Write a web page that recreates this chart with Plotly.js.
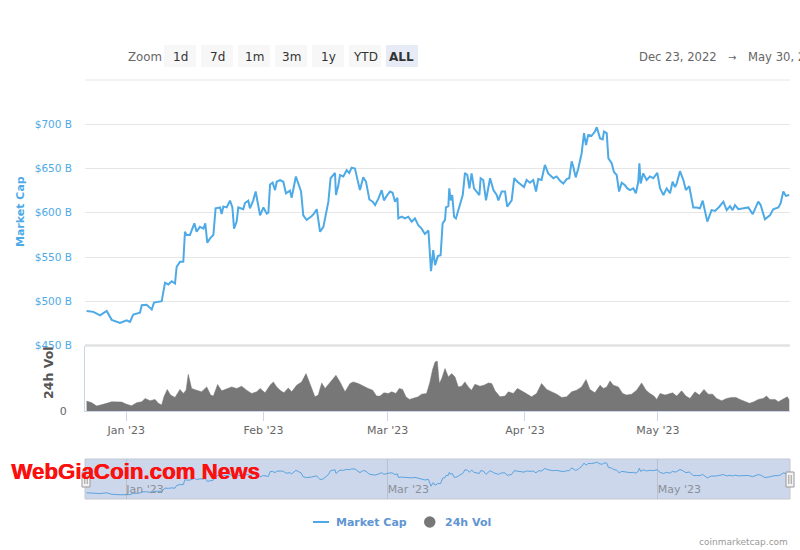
<!DOCTYPE html>
<html>
<head>
<meta charset="utf-8">
<script src="https://cdn.plot.ly/plotly-3.0.1.min.js"></script>
<style>html,body{margin:0;padding:0;background:#fff;}#chart{width:800px;height:550px;}</style>
</head>
<body>
<div id="chart"></div>
<script>
// ---- Data (Market Cap in $ billions, 24h Vol in $ billions) ----
const capDates = [
'2022-12-23 01:00','2022-12-24 14:00','2022-12-26 02:00','2022-12-27 14:00','2022-12-28 17:00','2022-12-30 14:00',
'2023-01-01 02:00','2023-01-01 20:00','2023-01-02 14:00','2023-01-04 02:00','2023-01-04 12:00','2023-01-05 14:00',
'2023-01-06 18:00','2023-01-07 06:00','2023-01-09 00:00','2023-01-09 18:00','2023-01-10 12:00','2023-01-11 06:00',
'2023-01-12 00:00','2023-01-12 09:00','2023-01-13 03:00','2023-01-13 21:00','2023-01-14 06:00','2023-01-14 15:00',
'2023-01-15 09:00','2023-01-16 09:00','2023-01-16 21:00','2023-01-17 15:00','2023-01-18 10:00','2023-01-18 20:00',
'2023-01-19 07:00','2023-01-19 22:00','2023-01-20 16:00','2023-01-21 04:00','2023-01-22 04:00','2023-01-22 13:00',
'2023-01-22 22:00','2023-01-23 16:00','2023-01-24 10:00','2023-01-24 23:00','2023-01-25 08:00','2023-01-25 22:00',
'2023-01-26 07:00','2023-01-27 10:00','2023-01-27 19:00','2023-01-28 13:00','2023-01-28 22:00','2023-01-29 16:00',
'2023-01-30 05:00','2023-01-30 19:00','2023-01-31 05:00','2023-01-31 23:00','2023-02-01 17:00','2023-02-02 02:00',
'2023-02-02 11:00','2023-02-03 01:00','2023-02-03 14:00','2023-02-03 23:00','2023-02-04 17:00','2023-02-05 11:00',
'2023-02-06 01:00','2023-02-06 23:00','2023-02-07 08:00','2023-02-08 07:00','2023-02-08 20:00','2023-02-09 11:00',
'2023-02-09 23:00','2023-02-10 17:00','2023-02-11 20:00','2023-02-12 09:00','2023-02-13 00:00','2023-02-13 08:00',
'2023-02-13 18:00','2023-02-14 12:00','2023-02-15 02:00','2023-02-15 15:00','2023-02-16 03:00','2023-02-16 18:00',
'2023-02-17 03:00','2023-02-17 08:00','2023-02-17 21:00','2023-02-18 06:00','2023-02-19 00:00','2023-02-19 18:00',
'2023-02-20 08:00','2023-02-20 21:00','2023-02-21 15:00','2023-02-22 04:00','2023-02-22 18:00','2023-02-23 12:00',
'2023-02-24 03:00','2023-02-24 21:00','2023-02-25 15:00','2023-02-26 04:00','2023-02-26 22:00','2023-02-27 16:00',
'2023-02-28 04:00','2023-02-28 19:00','2023-03-01 13:00','2023-03-02 03:00','2023-03-02 16:00','2023-03-03 05:00',
'2023-03-03 10:00','2023-03-04 04:00','2023-03-04 22:00','2023-03-05 16:00','2023-03-06 10:00','2023-03-07 04:00',
'2023-03-07 22:00','2023-03-08 16:00','2023-03-09 10:00','2023-03-10 05:00','2023-03-10 13:00','2023-03-10 19:00',
'2023-03-11 07:00','2023-03-11 17:00','2023-03-12 08:00','2023-03-12 23:00','2023-03-13 10:00','2023-03-13 23:00',
'2023-03-14 04:00','2023-03-14 17:00','2023-03-14 22:00','2023-03-15 06:00','2023-03-15 14:00','2023-03-16 00:00',
'2023-03-16 10:00','2023-03-16 23:00','2023-03-17 12:00','2023-03-17 23:00','2023-03-18 11:00','2023-03-19 00:00',
'2023-03-19 11:00','2023-03-19 23:00','2023-03-20 12:00','2023-03-21 02:00','2023-03-21 17:00','2023-03-22 00:00',
'2023-03-22 14:00','2023-03-23 05:00','2023-03-24 03:00','2023-03-24 21:00','2023-03-25 15:00','2023-03-26 00:00',
'2023-03-26 18:00','2023-03-27 12:00','2023-03-28 00:00','2023-03-29 00:00','2023-03-29 14:00','2023-03-30 07:00',
'2023-03-31 06:00','2023-03-31 19:00','2023-04-01 09:00','2023-04-02 03:00','2023-04-02 21:00','2023-04-03 12:00',
'2023-04-04 00:00','2023-04-04 18:00','2023-04-05 12:00','2023-04-06 06:00','2023-04-07 10:00','2023-04-08 04:00',
'2023-04-08 22:00','2023-04-09 16:00','2023-04-10 10:00','2023-04-11 00:00','2023-04-11 13:00','2023-04-11 22:00',
'2023-04-12 11:00','2023-04-13 01:00','2023-04-13 19:00','2023-04-14 08:00','2023-04-14 19:00','2023-04-15 07:00',
'2023-04-16 01:00','2023-04-16 19:00','2023-04-17 05:00','2023-04-17 23:00','2023-04-18 13:00','2023-04-18 20:00',
'2023-04-19 11:00','2023-04-19 20:00','2023-04-20 14:00','2023-04-21 02:00','2023-04-21 17:00','2023-04-22 06:00',
'2023-04-22 20:00','2023-04-23 14:00','2023-04-24 03:00','2023-04-24 17:00','2023-04-25 11:00','2023-04-26 01:00',
'2023-04-26 14:00','2023-04-26 20:00','2023-04-27 03:00','2023-04-27 17:00','2023-04-28 11:00','2023-04-29 05:00',
'2023-04-29 23:00','2023-04-30 21:00','2023-05-01 12:00','2023-05-02 06:00','2023-05-03 00:00','2023-05-03 18:00',
'2023-05-04 08:00','2023-05-04 21:00','2023-05-05 06:00','2023-05-06 00:00','2023-05-06 18:00','2023-05-07 08:00',
'2023-05-08 02:00','2023-05-09 00:00','2023-05-09 18:00','2023-05-10 12:00','2023-05-11 03:00','2023-05-11 15:00',
'2023-05-12 04:00','2023-05-13 03:00','2023-05-13 22:00','2023-05-14 21:00','2023-05-15 19:00','2023-05-16 13:00',
'2023-05-17 07:00','2023-05-17 21:00','2023-05-18 10:00','2023-05-19 04:00','2023-05-20 07:00','2023-05-21 10:00',
'2023-05-22 10:00','2023-05-22 22:00','2023-05-23 16:00','2023-05-24 05:00','2023-05-25 04:00','2023-05-26 07:00',
'2023-05-27 01:00','2023-05-28 05:00','2023-05-28 17:00','2023-05-29 08:00','2023-05-29 22:00','2023-05-30 16:00'
];
const marketCap = [
489,488,484,489,479,475.5,
478.5,476.6,485,487,495.5,496,
490.6,498.5,500,521,519,522.6,
520,539,544.5,544.5,578.5,575,
575,588,578.5,584,582,588,
566,571,575,605,606,598.5,
607,606,613.6,606,582,590,
606,604,611,613.6,605,614,
624,609,597,606,599,600,
632,634,625.6,635,637,635,
622,625,617,641,633,624,
597,592,596,599,604,592,
578.5,584,598.5,612.5,639,642.6,
645,620,631,642.6,641,648,
645,651,650,638,625.6,640,
635,615,612.5,608.7,616,625.6,
614,619,624,622.6,612.5,617,
593.6,595.5,593.6,595.5,590,593.6,
586,582,576,580,545,534,
557.7,540.8,551,552,588,592,
606,607.5,627.5,614,620,595.5,
593.6,603,614,620,645,642.6,
627.5,644.5,627.5,624,620,639,
637,614,639,625.6,620,614,
624,624,606.8,614,639,635,
631,629,637,634,637,624,
638,637,654,644.5,639,641,
636,633,638,639,658,652,
640,650,667,690,676.6,688,
687,691.7,696.6,684,683,691.7,
690,661.5,656,646,642.6,624,
634,631,627.5,625.6,627.5,622,
635,656,633,644.5,637,641,
639,645,627.5,620,627.5,622,
635,629,633,647,637,625.6,
630,606,606,605,613.6,603,
590,603,602,606.8,612.5,603,
607.5,603,608.7,604,605,606,
598.5,604,612.5,608.7,592.5,597,
604,606,610.6,624,619,620
];
const volDates = [
'2022-12-23 01:00','2022-12-24 05:00','2022-12-25 08:00','2022-12-26 11:00','2022-12-27 14:00','2022-12-28 17:00',
'2022-12-29 20:00','2022-12-30 23:00','2023-01-01 02:00','2023-01-02 05:00','2023-01-03 08:00','2023-01-04 12:00',
'2023-01-05 06:00','2023-01-06 09:00','2023-01-07 12:00','2023-01-08 06:00','2023-01-09 00:00','2023-01-09 12:00',
'2023-01-10 06:00','2023-01-11 00:00','2023-01-12 00:00','2023-01-13 03:00','2023-01-13 21:00','2023-01-14 12:00',
'2023-01-15 00:00','2023-01-15 18:00','2023-01-16 21:00','2023-01-18 00:00','2023-01-19 04:00','2023-01-20 01:00',
'2023-01-20 16:00','2023-01-21 15:00','2023-01-22 13:00','2023-01-23 16:00','2023-01-24 19:00','2023-01-25 22:00',
'2023-01-27 01:00','2023-01-28 04:00','2023-01-29 07:00','2023-01-30 11:00','2023-01-31 05:00','2023-02-01 08:00',
'2023-02-02 11:00','2023-02-03 05:00','2023-02-03 23:00','2023-02-04 17:00','2023-02-05 14:00','2023-02-06 14:00',
'2023-02-07 08:00','2023-02-08 11:00','2023-02-09 14:00','2023-02-10 14:00','2023-02-11 11:00','2023-02-12 14:00',
'2023-02-13 08:00','2023-02-14 03:00','2023-02-14 21:00','2023-02-15 20:00','2023-02-16 14:00','2023-02-17 08:00',
'2023-02-18 06:00','2023-02-19 09:00','2023-02-20 12:00','2023-02-21 06:00','2023-02-22 09:00','2023-02-23 12:00',
'2023-02-24 15:00','2023-02-25 15:00','2023-02-26 12:00','2023-02-27 07:00','2023-02-28 04:00','2023-03-01 04:00',
'2023-03-01 22:00','2023-03-02 21:00','2023-03-03 15:00','2023-03-04 09:00','2023-03-05 03:00','2023-03-05 22:00',
'2023-03-06 19:00','2023-03-07 22:00','2023-03-08 16:00','2023-03-09 19:00','2023-03-10 13:00','2023-03-11 04:00',
'2023-03-11 17:00','2023-03-12 05:00','2023-03-12 16:00','2023-03-13 05:00','2023-03-13 23:00','2023-03-14 17:00',
'2023-03-15 11:00','2023-03-16 05:00','2023-03-16 23:00','2023-03-17 17:00','2023-03-18 11:00','2023-03-19 05:00',
'2023-03-19 23:00','2023-03-20 17:00','2023-03-21 20:00','2023-03-22 18:00','2023-03-23 18:00','2023-03-24 12:00',
'2023-03-25 06:00','2023-03-26 09:00','2023-03-27 12:00','2023-03-28 06:00','2023-03-29 09:00','2023-03-30 07:00',
'2023-03-31 06:00','2023-04-01 09:00','2023-04-02 12:00','2023-04-03 15:00','2023-04-04 18:00','2023-04-05 22:00',
'2023-04-07 01:00','2023-04-08 04:00','2023-04-09 07:00','2023-04-10 10:00','2023-04-11 13:00','2023-04-12 16:00',
'2023-04-13 19:00','2023-04-14 19:00','2023-04-15 16:00','2023-04-16 19:00','2023-04-17 23:00','2023-04-18 17:00',
'2023-04-19 11:00','2023-04-20 05:00','2023-04-20 23:00','2023-04-22 02:00','2023-04-23 01:00','2023-04-23 23:00',
'2023-04-25 02:00','2023-04-26 05:00','2023-04-27 08:00','2023-04-28 08:00','2023-04-29 05:00','2023-04-30 03:00',
'2023-04-30 18:00','2023-05-01 12:00','2023-05-02 15:00','2023-05-03 14:00','2023-05-04 08:00','2023-05-05 06:00',
'2023-05-06 09:00','2023-05-07 08:00','2023-05-08 06:00','2023-05-09 09:00','2023-05-10 09:00','2023-05-11 10:00',
'2023-05-12 09:00','2023-05-13 09:00','2023-05-14 06:00','2023-05-15 10:00','2023-05-16 13:00','2023-05-17 16:00',
'2023-05-18 15:00','2023-05-19 13:00','2023-05-20 16:00','2023-05-21 16:00','2023-05-22 17:00','2023-05-23 16:00',
'2023-05-24 19:00','2023-05-25 13:00','2023-05-26 07:00','2023-05-27 11:00','2023-05-28 05:00','2023-05-29 08:00',
'2023-05-30 05:00','2023-05-30 16:00'
];
const volume24h = [
10,8.3,5,6.7,7.7,9.3,
9.3,9,6.7,5.3,8.3,9.3,
12.7,10.3,11.7,7.7,6,14.3,
21.7,16,13.7,21.7,17.7,21,
37,22.7,21,19.3,24.3,16,
15,26.7,20.3,22.7,24.3,22.7,
25,21,17.7,19.3,22.7,18.3,
26,29.3,24.3,21,18.3,23.3,
19.3,26,29.3,37.7,27.7,14.3,
16,28.3,22.7,27.7,31.7,36,
29.3,19.3,27.7,29.3,27.7,25,
22.7,21,15,15,18.3,17.7,
19.3,17.7,22.7,21.7,14.3,11.7,
12.7,14.3,17,17.7,29,42,
49.3,50.3,27.7,32.7,42.7,34.3,
37.7,34.3,24.3,25,29.3,24.3,
21,27,25,26,28.3,27.7,
20.3,14.3,15,19.3,17.7,22.7,
20.3,17.7,14.3,17.7,27.7,21.7,
19.3,17,13.7,14.3,19.3,21,
24.3,31.7,21.7,18.3,26,22.7,
24.3,30.3,26,24.3,17.7,16,
17,21,28.3,21,17.7,15,
11.7,17.7,16,17,18.3,15,
20.3,15,12.7,19.3,16,21.7,
17,17,12.7,10.3,12.7,13.7,
13.7,11.7,9.3,7.7,9.3,11.7,
12.7,15,11.7,11.7,9.3,11.7,
14.3,11
];
const capTicks = [450, 500, 550, 600, 650, 700, 750];
const capTickText = ['$450 B', '$500 B', '$550 B', '$600 B', '$650 B', '$700 B', ''];
const navTicks = ['2023-01-01', '2023-03-01', '2023-05-01'];
const navTickText = ["Jan '23", "Mar '23", "May '23"];
const zoomLabels = ['1d', '7d', '1m', '3m', '1y', 'YTD', 'ALL'];
const fromDate = 'Dec 23, 2022';
const toDate = 'May 30, 2023';
const seriesNames = ['Market Cap', '24h Vol'];

// ---- Styling / layout ----
const W = 800, H = 550;
const px = v => v / W;            // x pixel -> paper
const py = v => 1 - v / H;        // y pixel -> paper
const FONT = 'DejaVu Sans, Verdana, sans-serif';
const BLUE = '#4eaae6';
const xRange = ['2022-12-22 16:25', '2023-05-30 20:00'];
const xDomain = [px(85), px(790)];

const traces = [
  {x: capDates, y: marketCap, type: 'scatter', mode: 'lines', name: seriesNames[0],
   line: {color: BLUE, width: 2}, xaxis: 'x', yaxis: 'y', hoverinfo: 'skip'},
  {x: volDates, y: volume24h, type: 'scatter', mode: 'lines', name: seriesNames[1],
   fill: 'tozeroy', fillcolor: '#777777', line: {color: '#777777', width: 0.5},
   xaxis: 'x', yaxis: 'y2', hoverinfo: 'skip'},
  {x: capDates, y: marketCap, type: 'scatter', mode: 'lines', name: 'navigator',
   line: {color: '#5aa3df', width: 1}, xaxis: 'x3', yaxis: 'y3', hoverinfo: 'skip'}
];

const shapes = [];
const annotations = [];

// top gridline of main pane
shapes.push({type: 'line', xref: 'paper', yref: 'paper', x0: px(85), x1: px(790), y0: py(80), y1: py(80),
  line: {color: '#e6e6e6', width: 1}});
// pane separator
shapes.push({type: 'line', xref: 'paper', yref: 'paper', x0: px(85), x1: px(790), y0: py(345.5), y1: py(345.5),
  line: {color: '#e2e2e2', width: 2.5}});
// navigator mask/outline
shapes.push({type: 'rect', xref: 'paper', yref: 'paper', x0: px(85), x1: px(790), y0: py(499), y1: py(459),
  fillcolor: 'rgba(102,133,194,0.33)', line: {color: '#c3c8d0', width: 1}, layer: 'below'});
// navigator handles
[86, 790].forEach(hx => {
  shapes.push({type: 'rect', xref: 'paper', yref: 'paper', x0: px(hx - 4), x1: px(hx + 4), y0: py(487), y1: py(472),
    fillcolor: '#f2f2f2', line: {color: '#999999', width: 1}});
  shapes.push({type: 'line', xref: 'paper', yref: 'paper', x0: px(hx - 1.2), x1: px(hx - 1.2), y0: py(484), y1: py(475),
    line: {color: '#999999', width: 1}});
  shapes.push({type: 'line', xref: 'paper', yref: 'paper', x0: px(hx + 1.2), x1: px(hx + 1.2), y0: py(484), y1: py(475),
    line: {color: '#999999', width: 1}});
});

// zoom buttons
annotations.push({xref: 'paper', yref: 'paper', x: px(126), y: py(57), xanchor: 'left', yanchor: 'middle',
  text: 'Zoom', showarrow: false, font: {family: FONT, size: 11.8, color: '#666666'}});
zoomLabels.forEach((lab, i) => {
  const x0 = 164 + i * 37;
  const sel = lab === 'ALL';
  shapes.push({type: 'rect', xref: 'paper', yref: 'paper', x0: px(x0), x1: px(x0 + 32), y0: py(67), y1: py(45),
    fillcolor: sel ? '#e6ebf5' : '#f7f7f7', line: {width: 0}});
  annotations.push({xref: 'paper', yref: 'paper', x: px(x0 + 16), y: py(57), xanchor: 'center', yanchor: 'middle',
    text: sel ? '<b>' + lab + '</b>' : lab, showarrow: false, font: {family: FONT, size: 12, color: '#333333'}});
});
// date range
annotations.push({xref: 'paper', yref: 'paper', x: px(637), y: py(57), xanchor: 'left', yanchor: 'middle',
  text: fromDate, showarrow: false, font: {family: FONT, size: 11.6, color: '#666666'}});
annotations.push({xref: 'paper', yref: 'paper', x: px(731.5), y: py(57), xanchor: 'center', yanchor: 'middle',
  text: '→', showarrow: false, font: {family: FONT, size: 10, color: '#666666'}});
annotations.push({xref: 'paper', yref: 'paper', x: px(745.5), y: py(57), xanchor: 'left', yanchor: 'middle',
  text: toDate, showarrow: false, font: {family: FONT, size: 11.6, color: '#666666'}});

// axis titles
annotations.push({xref: 'paper', yref: 'paper', x: px(20), y: py(212), xanchor: 'center', yanchor: 'middle',
  text: '<b>' + seriesNames[0] + '</b>', textangle: -90, showarrow: false, font: {family: FONT, size: 11, color: BLUE}});
annotations.push({xref: 'paper', yref: 'paper', x: px(48), y: py(373), xanchor: 'center', yanchor: 'middle',
  text: '<b>' + seriesNames[1] + '</b>', textangle: -90, showarrow: false, font: {family: FONT, size: 12.5, color: '#555555'}});

// watermark
annotations.push({xref: 'paper', yref: 'paper', x: px(9), y: py(471), xanchor: 'left', yanchor: 'middle',
  text: '<b>WebGiaCoin.com News</b>', showarrow: false,
  font: {family: 'Liberation Sans, Arial, sans-serif', size: 22.3, color: '#fb1010', shadow: '0.7px 0 0 #fb1010'}});

// legend
shapes.push({type: 'line', xref: 'paper', yref: 'paper', x0: px(313), x1: px(329), y0: py(522), y1: py(522),
  line: {color: BLUE, width: 2}});
annotations.push({xref: 'paper', yref: 'paper', x: px(334), y: py(522), xanchor: 'left', yanchor: 'middle',
  text: '<b>' + seriesNames[0] + '</b>', showarrow: false, font: {family: FONT, size: 11, color: '#5f95d2'}});
shapes.push({type: 'circle', xref: 'paper', yref: 'paper', x0: px(424), x1: px(435.5), y0: py(527.8), y1: py(516.3),
  fillcolor: '#777777', line: {width: 0}});
annotations.push({xref: 'paper', yref: 'paper', x: px(442.5), y: py(522), xanchor: 'left', yanchor: 'middle',
  text: '<b>' + seriesNames[1] + '</b>', showarrow: false, font: {family: FONT, size: 11, color: '#5f95d2'}});

// credit
annotations.push({xref: 'paper', yref: 'paper', x: px(790), y: py(542), xanchor: 'right', yanchor: 'middle',
  text: 'coinmarketcap.com', showarrow: false, font: {family: FONT, size: 9, color: '#999999'}});

const layout = {
  width: W, height: H,
  margin: {l: 0, r: 0, t: 0, b: 0, pad: 0},
  paper_bgcolor: '#ffffff', plot_bgcolor: 'rgba(0,0,0,0)',
  showlegend: false,
  font: {family: FONT},
  xaxis: {domain: xDomain, anchor: 'y2', type: 'date', range: xRange,
    tick0: '2023-01-01', dtick: 'M1', tickformat: "%b '%y",
    ticks: 'outside', ticklen: 9, tickwidth: 1, tickcolor: '#ccd6eb',
    showline: true, linecolor: '#ccd6eb', linewidth: 1, showgrid: false, zeroline: false,
    tickfont: {family: FONT, size: 11, color: '#666666'}, fixedrange: true},
  yaxis: {domain: [py(345.5), py(80)], anchor: 'x', range: [450, 750],
    tickmode: 'array', tickvals: capTicks, ticktext: capTickText,
    showgrid: true, gridcolor: '#e6e6e6', gridwidth: 1, zeroline: false, showline: false,
    ticks: '', ticklabelstandoff: 12,
    tickfont: {family: FONT, size: 10.5, color: BLUE}, fixedrange: true},
  yaxis2: {domain: [py(411), py(345.5)], anchor: 'x', range: [0, 66],
    tickmode: 'array', tickvals: [0], ticktext: ['0'],
    showgrid: false, zeroline: false, showline: true, linecolor: '#ccd6eb', linewidth: 1,
    ticks: '', ticklabelstandoff: 15,
    tickfont: {family: FONT, size: 11, color: '#666666'}, fixedrange: true},
  xaxis3: {domain: xDomain, anchor: 'y3', type: 'date', range: xRange,
    tickmode: 'array', tickvals: navTicks, ticktext: navTickText,
    ticklabelposition: 'inside right', ticks: '', ticklabelstandoff: -2,
    showgrid: true, gridcolor: '#b9c1cf', gridwidth: 1, showline: false, zeroline: false,
    tickfont: {family: FONT, size: 11, color: '#8a8f99'}, fixedrange: true},
  yaxis3: {domain: [py(499), py(459)], anchor: 'x3', range: [447, 718], visible: false, fixedrange: true},
  shapes: shapes,
  annotations: annotations
};

Plotly.newPlot('chart', traces, layout, {displayModeBar: false, staticPlot: true});
</script>
</body>
</html>
